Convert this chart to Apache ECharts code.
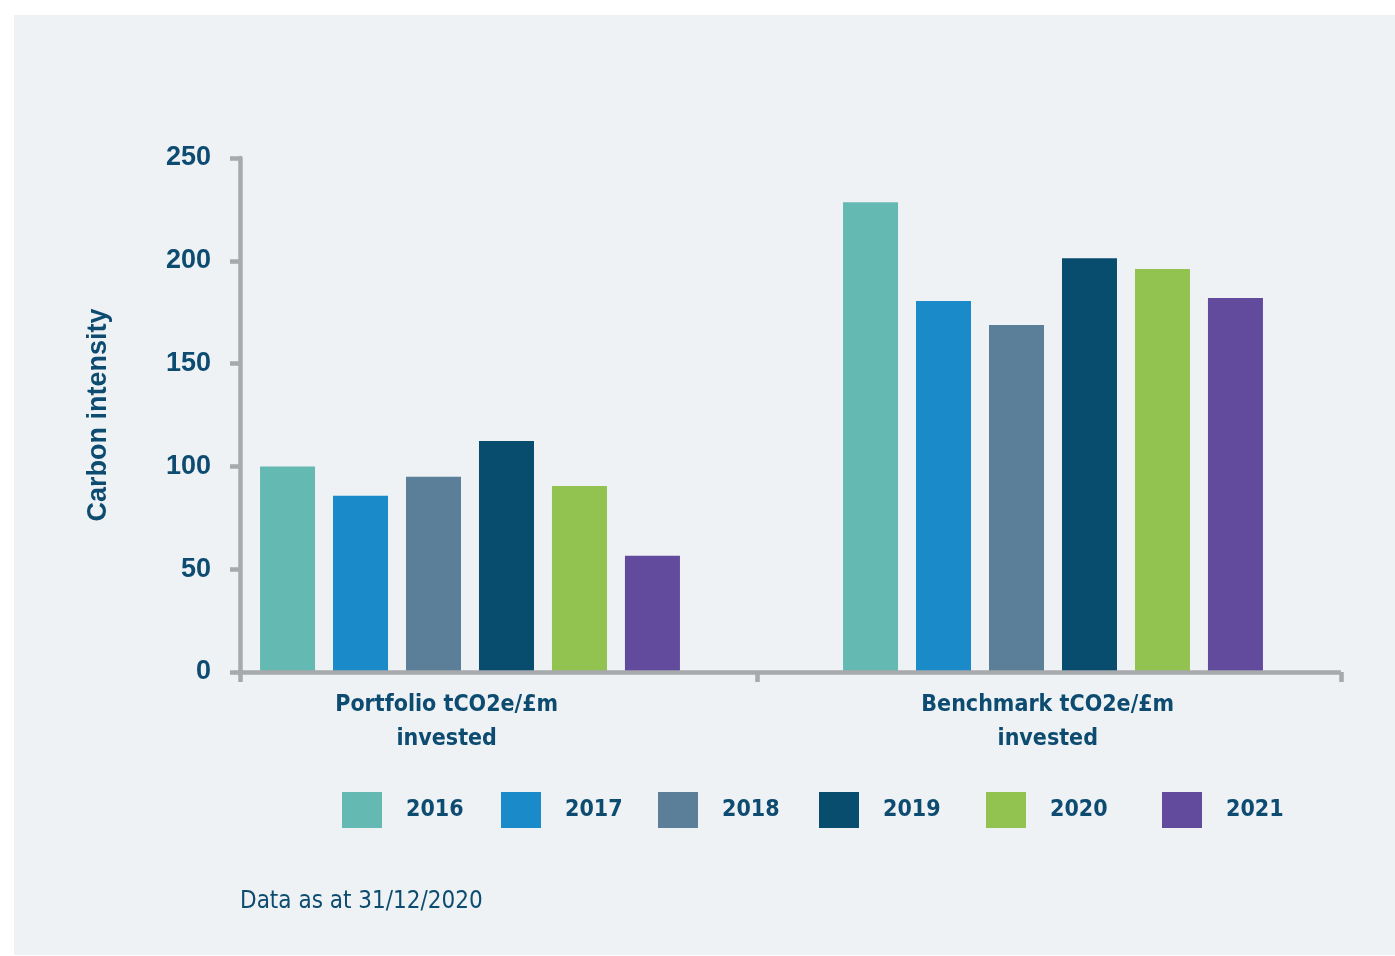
<!DOCTYPE html>
<html>
<head>
<meta charset="utf-8">
<script src="https://cdn.jsdelivr.net/npm/echarts@6/dist/echarts.min.js"></script>
<style>
  html, body { margin: 0; padding: 0; background: #ffffff; }
  #panel { position: absolute; left: 14px; top: 15px; width: 1381px; height: 940px; background: #eef2f5; }
  #chart { position: absolute; left: 0; top: 0; width: 1395px; height: 956px; }
</style>
</head>
<body>
<div id="panel"></div>
<div id="chart"></div>
<script>
// Carbon intensity by year, portfolio vs benchmark
const years = ['2016', '2017', '2018', '2019', '2020', '2021'];
const groups = ['Portfolio tCO2e/£m\ninvested', 'Benchmark tCO2e/£m\ninvested'];
const portfolio = [100, 85.7, 95, 112.4, 90.5, 56.5];
const benchmark = [228.5, 180.4, 168.8, 201.3, 196, 181.9];
const yTicks = [0, 50, 100, 150, 200, 250];
const footnote = 'Data as at 31/12/2020';

// group slots on the numeric x scale (group 1 at x=1, group 2 at x=2)
const groupPos = [1, 2];
const X_MIN = 0.6055, X_MAX = 2.494;
const xTickAt = [X_MIN, 1.492, X_MAX];
const xLabelAt = [0.96, 1.991];

const colors = ['#64bab3', '#1a8ac8', '#5b7f99', '#094d6e', '#92c350', '#624a9c'];
const TEXT = '#0d4c70';
const AXIS = '#a7a9ac';
const BOLD = 'Helvetica Neue, Liberation Sans, Arial, sans-serif';
const NARROW = "'Liberation Sans Narrow', 'DejaVu Sans Condensed', 'Liberation Sans', sans-serif";
const legendLeft = [342, 501, 658, 819, 986, 1162];

const chart = echarts.init(document.getElementById('chart'), null, { renderer: 'canvas' });

const series = years.map((y, i) => ({
  name: y,
  type: 'bar',
  barWidth: 55,
  barGap: '32.7%',
  itemStyle: { color: colors[i] },
  data: [[groupPos[0], portfolio[i]], [groupPos[1], benchmark[i]]]
}));

const legends = years.map((y, i) => ({
  data: [y],
  left: legendLeft[i],
  top: 792,
  padding: 0,
  icon: 'rect',
  itemWidth: 40,
  itemHeight: 36,
  selectedMode: false,
  textStyle: { color: TEXT, fontFamily: NARROW, fontWeight: 'bold', fontSize: 23, padding: [9, 0, 0, 19] }
}));

chart.setOption({
  animation: false,
  backgroundColor: 'transparent',
  color: colors,
  title: {
    text: footnote,
    left: 240,
    top: 890,
    padding: 0,
    textStyle: { color: TEXT, fontFamily: NARROW, fontWeight: 'normal', fontSize: 24 }
  },
  legend: legends,
  grid: { left: 240, right: 54, top: 158, bottom: 284, containLabel: false },
  xAxis: {
    type: 'value',
    min: X_MIN,
    max: X_MAX,
    z: 5,
    axisLine: { show: true, onZero: false, lineStyle: { color: AXIS, width: 4.5, cap: 'butt' } },
    axisTick: { show: true, customValues: xTickAt, length: 10, lineStyle: { color: AXIS, width: 4.5 } },
    axisLabel: {
      customValues: xLabelAt,
      margin: 16,
      color: TEXT,
      fontFamily: NARROW,
      fontWeight: 'bold',
      fontSize: 23,
      lineHeight: 34,
      formatter: v => {
        const k = xLabelAt.findIndex(p => Math.abs(p - v) < 1e-6);
        return k >= 0 ? groups[k] : '';
      }
    },
    splitLine: { show: false }
  },
  yAxis: {
    type: 'value',
    min: yTicks[0],
    max: yTicks[yTicks.length - 1],
    interval: yTicks[1] - yTicks[0],
    z: 5,
    name: 'Carbon intensity',
    nameLocation: 'middle',
    nameRotate: 90,
    nameGap: 128,
    nameTextStyle: { color: TEXT, fontFamily: BOLD, fontWeight: 'bold', fontSize: 27 },
    axisLine: { show: true, onZero: false, lineStyle: { color: AXIS, width: 4.5 } },
    axisTick: { show: true, length: 10, lineStyle: { color: AXIS, width: 4.5 } },
    axisLabel: { margin: 29, color: TEXT, fontFamily: BOLD, fontWeight: 'bold', fontSize: 27, padding: [5, 0, 0, 0] },
    splitLine: { show: false }
  },
  series: series
});
</script>
</body>
</html>
